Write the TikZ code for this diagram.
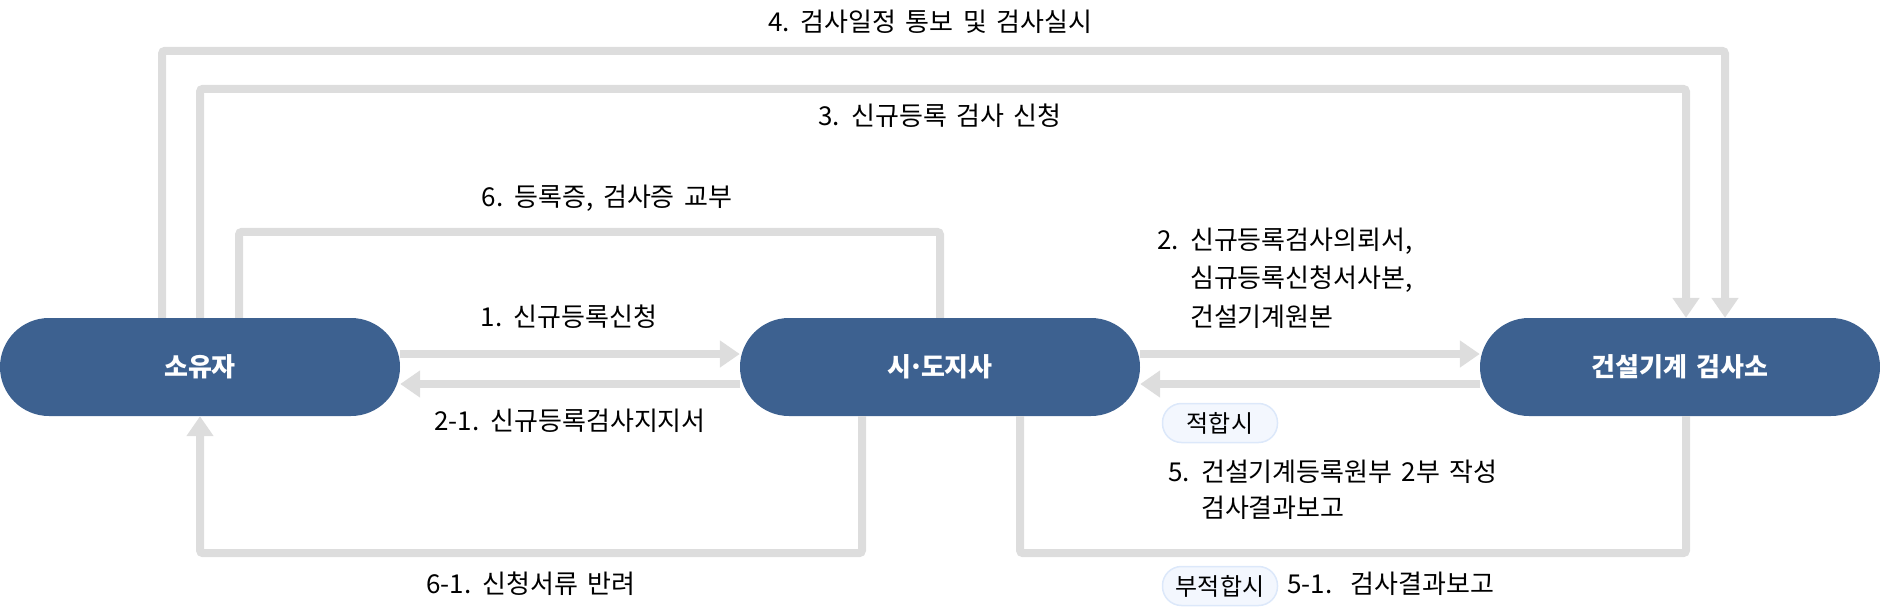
\documentclass[tikz,border=0pt]{standalone}
\usepackage{fontspec}
\setmainfont[WordSpace=1.6]{Noto Sans CJK KR}
\usetikzlibrary{arrows.meta}

\definecolor{boxblue}{HTML}{3D6190}
\definecolor{linegray}{HTML}{DDDDDD}
\definecolor{tagfill}{HTML}{F3F7FE}
\definecolor{tagline}{HTML}{DCE8FA}

\begin{document}
\begin{tikzpicture}[x=1pt,y=-1pt,
    box/.style={fill=boxblue, rounded corners=49pt, minimum width=400pt, minimum height=98pt,
        text=white, font=\fontsize{26pt}{30pt}\selectfont\bfseries},
    flow/.style={draw=linegray, line width=8pt, rounded corners=3pt},
    arr/.style={-{Triangle[length=20pt,width=26pt]}},
    lbl/.style={font=\fontsize{26pt}{38.5pt}\selectfont, inner sep=0pt},
    tag/.style={fill=tagfill, draw=tagline, line width=1.5pt, rounded corners=19pt,
        minimum width=115pt, minimum height=39pt, inner sep=0pt,
        font=\fontsize{24pt}{28pt}\selectfont}]
    \useasboundingbox (0,0) rectangle (1880,608);

    \node[box] (owner) at (200,367) {소유자};
    \node[box] (city) at (940,367) {시\kern-3pt·\kern-3pt도지사};
    \node[box] (office) at (1680,367) {건설기계 검사소};

    % upper loops
    \draw[flow,arr] ([xshift=-38pt]owner.north) -- ++(0,-267) -| ([xshift=45pt]office.north);
    \draw[flow,arr] (owner.north) -- ++(0,-229) -| ([xshift=6pt]office.north);
    \draw[flow] ([xshift=39pt]owner.north) -- ++(0,-86) -| (city.north);

    % between the boxes
    \draw[flow,arr] ([yshift=13pt]owner.east) -- ([yshift=13pt]city.west);
    \draw[flow,arr] ([yshift=-17pt]city.west) -- ([yshift=-17pt]owner.east);
    \draw[flow,arr] ([yshift=13pt]city.east) -- ([yshift=13pt]office.west);
    \draw[flow,arr] ([yshift=-17pt]office.west) -- ([yshift=-17pt]city.east);

    % lower loops
    \draw[flow] ([xshift=6pt]office.south) -- ++(0,137) -| ([xshift=80pt]city.south);
    \draw[flow,arr] ([xshift=-78pt]city.south) -- ++(0,137) -| (owner.south);

    \node[lbl] (l4) at (930,22) {4. 검사일정 통보 및 검사실시};
    \node[lbl] (l3) at (940,116) {3. 신규등록 검사 신청};
    \node[lbl] (l6) at (607,198) {6. 등록증, 검사증 교부};
    \node[lbl] (l1) at (569,317) {1. 신규등록신청};
    \node[lbl] (l21) at (570,421) {2-1. 신규등록검사지지서};
    \node[lbl] (l61) at (531,584) {6-1. 신청서류 반려};
    \node[lbl, anchor=west, align=left] (l2) at (1157,278)
        {2. 신규등록검사의뢰서,\\\phantom{2. }심규등록신청서사본,\\\phantom{2. }건설기계원본};
    \node[tag] (ok) at (1220,423) {적합시};
    \node[lbl, anchor=west, align=left] (l5) at (1168,490)
        {5. 건설기계등록원부 2부 작성\\[-2pt]\phantom{5. }검사결과보고};
    \node[tag] (ng) at (1220,586) {부적합시};
    \node[lbl, anchor=west] (l51) at (1287,584) {5-1.~~검사결과보고};
\end{tikzpicture}
\end{document}
